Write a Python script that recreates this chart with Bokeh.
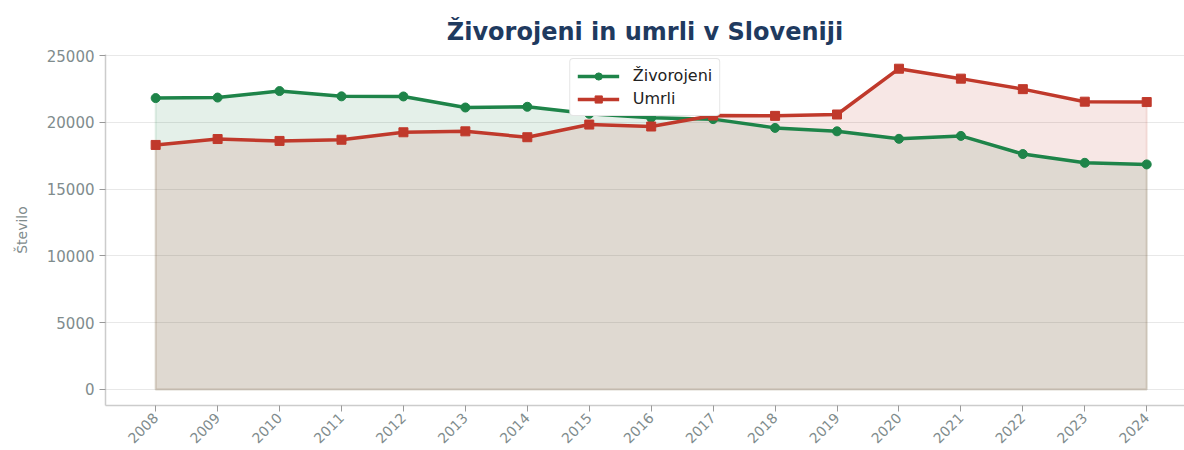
import math
from bokeh.plotting import figure
from bokeh.models import Range1d, FixedTicker, Legend, LegendItem
from bokeh.embed import file_html
from bokeh.resources import INLINE

years = [2008, 2009, 2010, 2011, 2012, 2013, 2014, 2015, 2016, 2017, 2018, 2019, 2020, 2021, 2022, 2023, 2024]
zivorojeni = [21817, 21856, 22343, 21947, 21938, 21111, 21165, 20641, 20345, 20241, 19585, 19328, 18767, 18984, 17627, 16970, 16850]
umrli = [18308, 18750, 18609, 18699, 19257, 19327, 18886, 19834, 19689, 20509, 20485, 20588, 24016, 23272, 22486, 21547, 21520]
y_ticks = [0, 5000, 10000, 15000, 20000, 25000]

GREEN = "#1e8449"
RED = "#c0392b"
GREY = "#7f8c8d"
FONT = "DejaVu Sans"

p = figure(width=1184, height=450, output_backend="svg", toolbar_location=None,
           x_range=Range1d(2007.19, 2024.61), y_range=Range1d(-1200, 25080),
           min_border_left=105, min_border_right=0, min_border_top=54, min_border_bottom=44,
           background_fill_color="white", border_fill_color="white")
p.outline_line_color = None

p.title.text = "Živorojeni in umrli v Sloveniji"
p.title.text_font = FONT
p.title.text_font_size = "24px"
p.title.text_font_style = "bold"
p.title.text_color = "#1f3a5f"
p.title.align = "center"
p.title.offset = 6
p.title.standoff = 18

# filled areas
zeros = [0] * len(years)
p.patch(years + years[::-1], zivorojeni + zeros[::-1], fill_color=GREEN, fill_alpha=0.12,
        line_color=GREEN, line_alpha=0.12, line_width=2)
p.patch(years + years[::-1], umrli + zeros[::-1], fill_color=RED, fill_alpha=0.12,
        line_color=RED, line_alpha=0.12, line_width=2)

gl = p.line(years, zivorojeni, line_color=GREEN, line_width=3.5)
gs = p.scatter(years, zivorojeni, marker="circle", size=9, fill_color=GREEN, line_color=GREEN)
rl = p.line(years, umrli, line_color=RED, line_width=3.5)
rs = p.scatter(years, umrli, marker="square", size=9, fill_color=RED, line_color=RED)

legend = Legend(items=[LegendItem(label="Živorojeni", renderers=[gl, gs]),
                       LegendItem(label="Umrli", renderers=[rl, rs])],
                location="top_center")
legend.label_text_font = FONT
legend.label_text_font_size = "16px"
legend.label_text_color = "#222222"
legend.border_line_color = "#cccccc"
legend.border_line_width = 1
legend.border_radius = 4
legend.background_fill_alpha = 1.0
legend.glyph_width = 42
legend.glyph_height = 18
legend.label_height = 18
legend.spacing = 4
legend.padding = 7
legend.margin = 4
legend.label_standoff = 14
p.add_layout(legend)

# axes
p.xaxis.ticker = FixedTicker(ticks=years)
p.yaxis.ticker = FixedTicker(ticks=y_ticks)
p.xaxis.major_label_orientation = math.pi / 4
for ax in (p.xaxis, p.yaxis):
    ax.axis_line_color = "#cccccc"
    ax.axis_line_width = 1.5
    ax.major_tick_line_color = "#999999"
    ax.major_tick_in = 0
    ax.major_tick_out = 6
    ax.minor_tick_line_color = None
    ax.major_label_text_color = GREY
    ax.major_label_text_font = FONT
    ax.major_label_standoff = 5
p.yaxis.major_label_text_font_size = "15px"
p.xaxis.major_label_text_font_size = "14px"
p.xaxis.major_label_standoff = 4
p.yaxis.axis_label = "Število"
p.yaxis.axis_label_text_font = FONT
p.yaxis.axis_label_text_font_size = "14px"
p.yaxis.axis_label_text_font_style = "normal"
p.yaxis.axis_label_text_color = GREY
p.yaxis.axis_label_standoff = 14

p.xgrid.grid_line_color = None
p.ygrid.grid_line_color = "#e8e8e8"
p.ygrid.grid_line_width = 1

open("out.html", "w").write(file_html(p, INLINE))
